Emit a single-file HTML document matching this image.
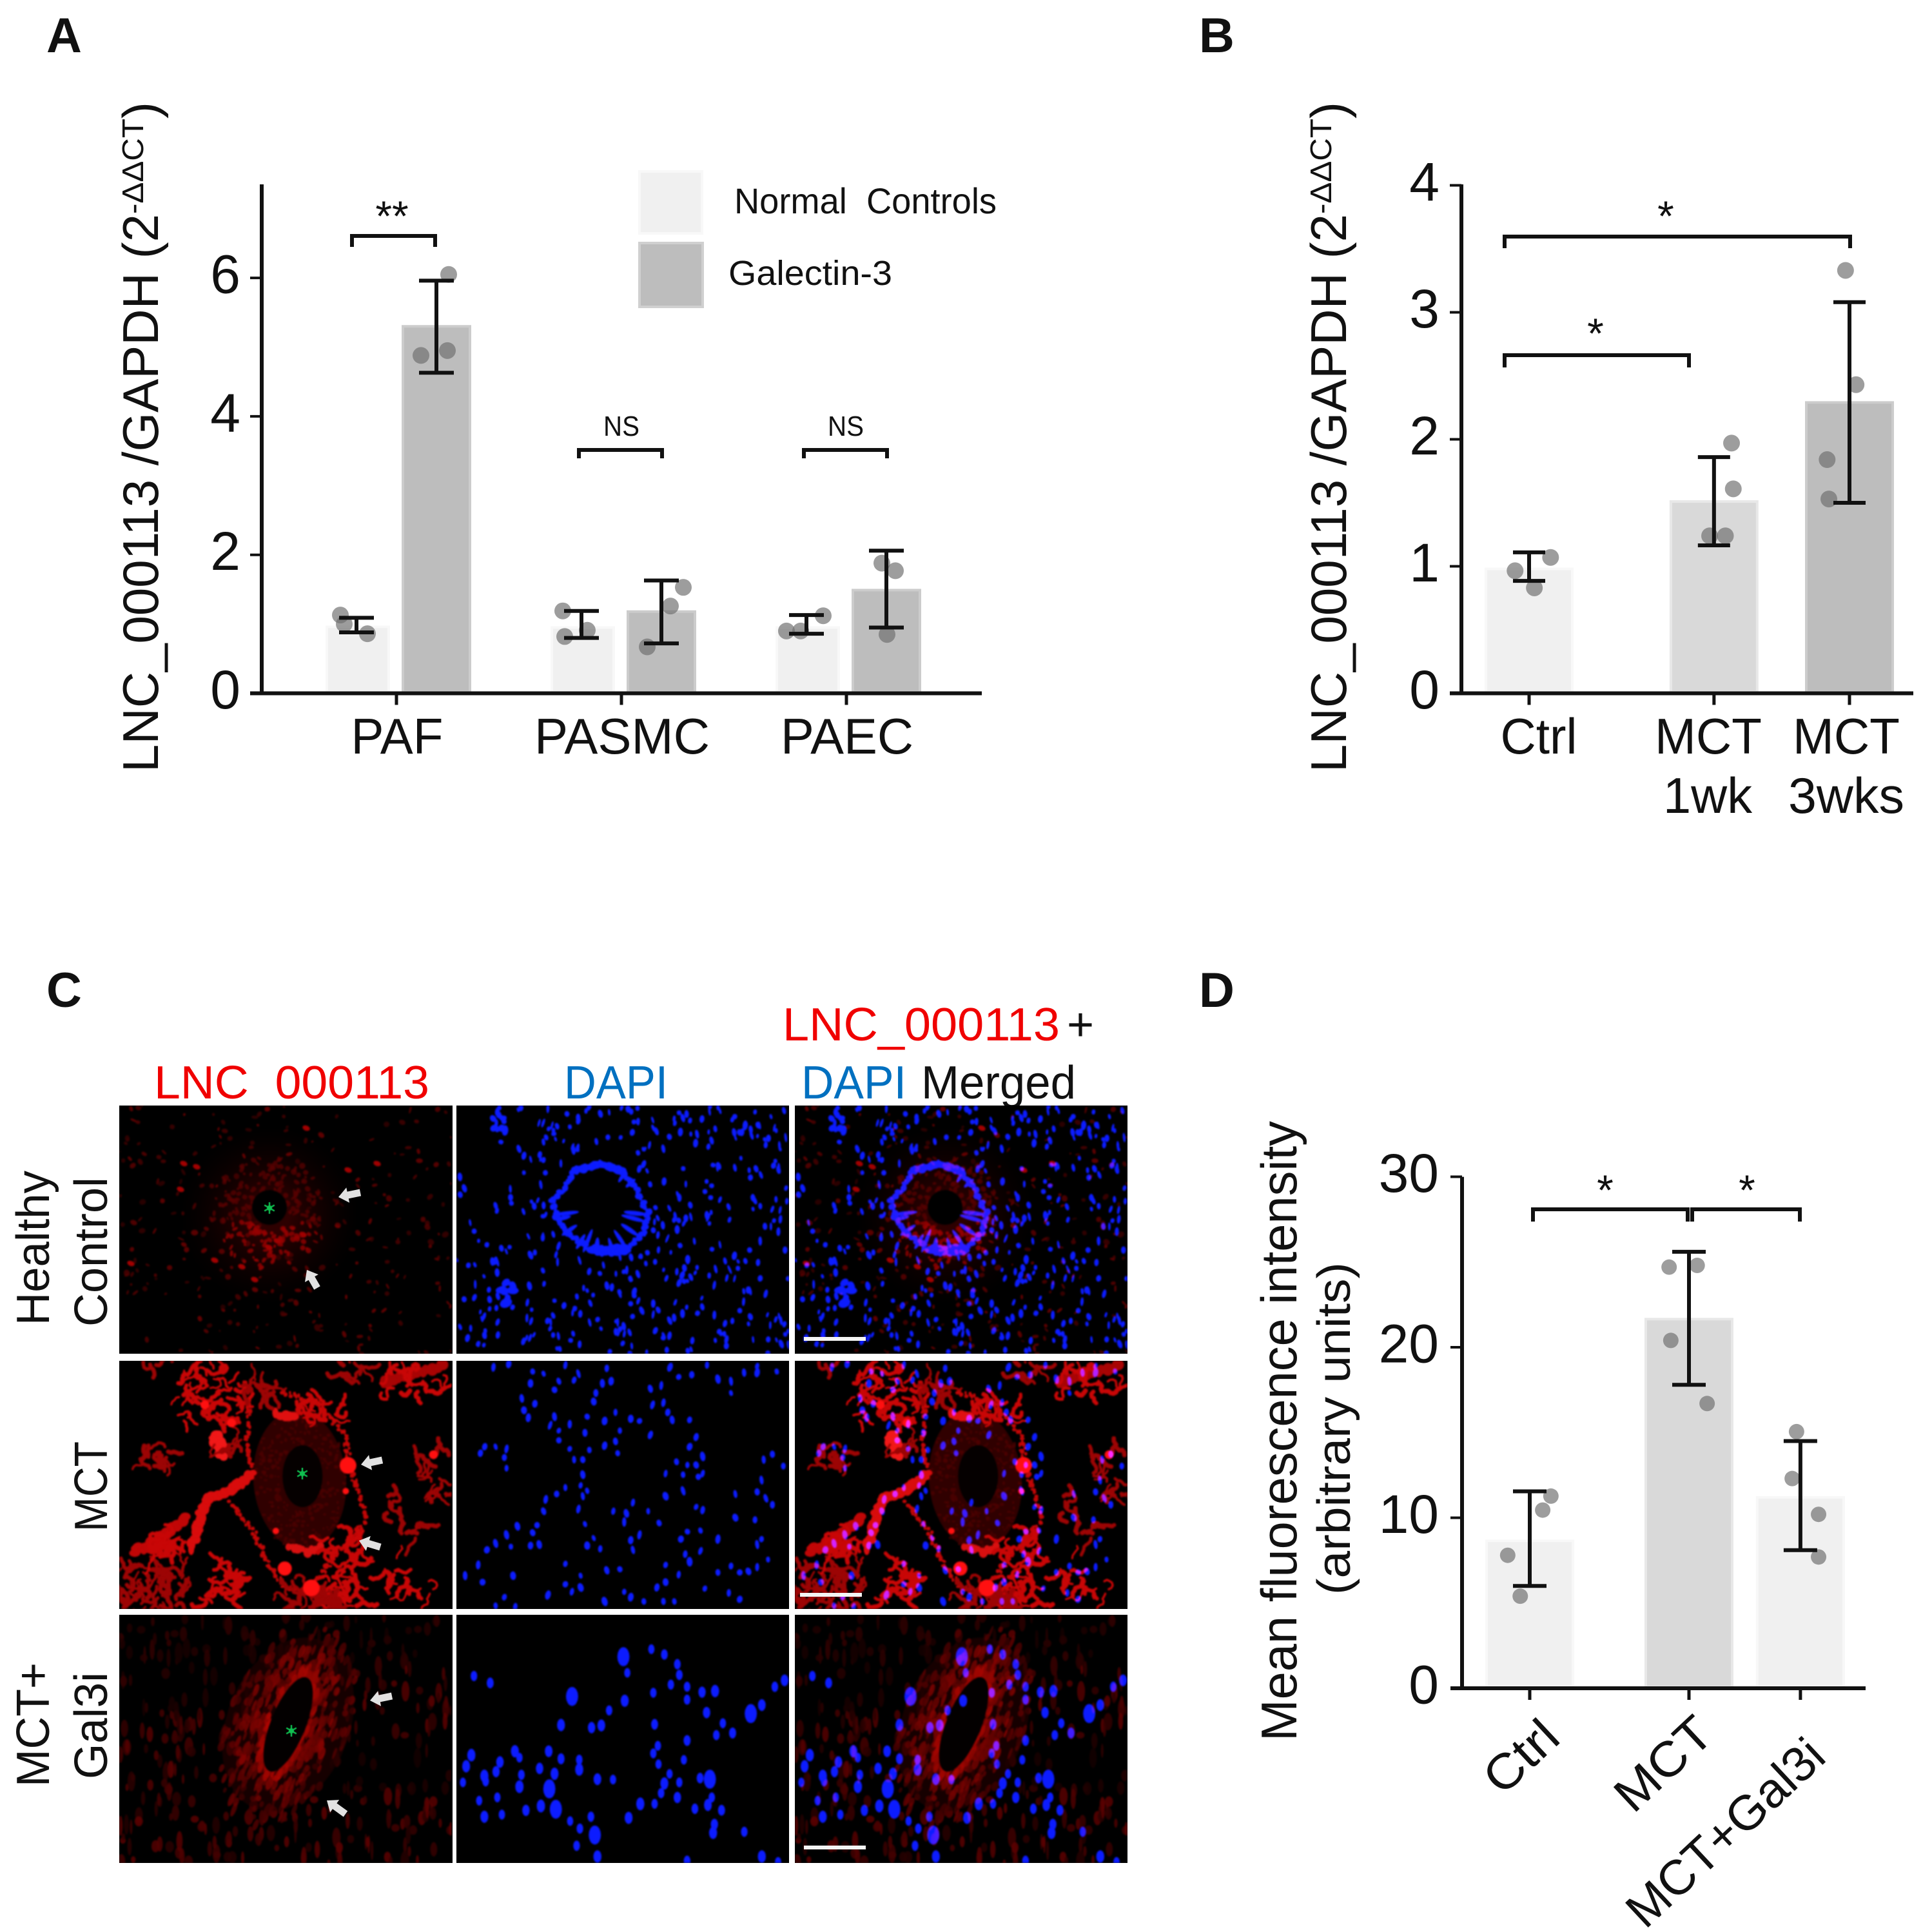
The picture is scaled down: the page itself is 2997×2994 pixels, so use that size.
<!DOCTYPE html>
<html lang="en">
<head>
<meta charset="utf-8">
<title>LNC_000113 expression figure</title>
<style>
html,body{margin:0;padding:0;background:#fff;}
#page{position:relative;width:2997px;height:2994px;overflow:hidden;background:#fff;}
svg{position:absolute;left:0;top:0;}
canvas{position:absolute;display:block;}
text{font-family:"Liberation Sans",Arial,sans-serif;fill:#111;}
.b{font-weight:700;}
</style>
</head>
<body>
<div id="page">
<svg id="base" width="2997" height="2994" viewBox="0 0 2997 2994">
  <defs><clipPath id="hdrClip"><rect x="200" y="1620" width="500" height="88"/></clipPath></defs>
  <text class="b" x="72" y="81" font-size="76">A</text>
  <text class="b" x="1860" y="81" font-size="76">B</text>
  <text class="b" x="72" y="1562" font-size="76">C</text>
  <text class="b" x="1860" y="1562" font-size="76">D</text>

  <g>
    <text transform="translate(245 1198) rotate(-90)" font-size="78" textLength="866" lengthAdjust="spacingAndGlyphs">LNC_000113 /GAPDH (2</text>
    <text transform="translate(222 332) rotate(-90)" font-size="46" textLength="148" lengthAdjust="spacingAndGlyphs">-ΔΔCT</text>
    <text transform="translate(245 184) rotate(-90)" font-size="78">)</text>
  </g>
  <g>
    <text transform="translate(2088 1198) rotate(-90)" font-size="78" textLength="866" lengthAdjust="spacingAndGlyphs">LNC_000113 /GAPDH (2</text>
    <text transform="translate(2065 332) rotate(-90)" font-size="46" textLength="148" lengthAdjust="spacingAndGlyphs">-ΔΔCT</text>
    <text transform="translate(2088 184) rotate(-90)" font-size="78">)</text>
  </g>
  <text transform="translate(2011 2701) rotate(-90)" font-size="78" textLength="962" lengthAdjust="spacingAndGlyphs">Mean fluorescence intensity</text>
  <text transform="translate(2094 2474) rotate(-90)" font-size="72" textLength="516" lengthAdjust="spacingAndGlyphs">(arbitrary units)</text>

  <g>
    <rect x="992" y="266" width="97" height="96" fill="#f0f0f0" stroke="#f8f8f8" stroke-width="4"/>
    <text x="1139" y="331" font-size="56" textLength="407" lengthAdjust="spacingAndGlyphs" xml:space="preserve">Normal  Controls</text>
    <rect x="992" y="377" width="98" height="99" fill="#bdbdbd" stroke="#d0d0d0" stroke-width="4"/>
    <text x="1130" y="442" font-size="54" textLength="254" lengthAdjust="spacingAndGlyphs">Galectin-3</text>
  </g>

  <g>
    <text x="239" y="1704" font-size="72" textLength="427" lengthAdjust="spacingAndGlyphs" style="fill:#f00000" clip-path="url(#hdrClip)">LNC_000113</text>
    <text x="875" y="1704" font-size="72" textLength="161" lengthAdjust="spacingAndGlyphs" style="fill:#0070c0">DAPI</text>
    <text x="1214" y="1614" font-size="72" textLength="430" lengthAdjust="spacingAndGlyphs" style="fill:#f00000">LNC_000113</text>
    <text x="1655" y="1614" font-size="72">+</text>
    <text x="1243" y="1704" font-size="72" textLength="163" lengthAdjust="spacingAndGlyphs" style="fill:#0070c0">DAPI</text>
    <text x="1429" y="1704" font-size="72" textLength="240" lengthAdjust="spacingAndGlyphs">Merged</text>
  </g>
  <g>
    <text transform="translate(76 2056) rotate(-90)" font-size="72" textLength="240" lengthAdjust="spacingAndGlyphs">Healthy</text>
    <text transform="translate(166 2058) rotate(-90)" font-size="72" textLength="232" lengthAdjust="spacingAndGlyphs">Control</text>
    <text transform="translate(166 2376) rotate(-90)" font-size="72" textLength="140" lengthAdjust="spacingAndGlyphs">MCT</text>
    <text transform="translate(76 2772) rotate(-90)" font-size="72" textLength="193" lengthAdjust="spacingAndGlyphs">MCT+</text>
    <text transform="translate(166 2760) rotate(-90)" font-size="72" textLength="166" lengthAdjust="spacingAndGlyphs">Gal3i</text>
  </g>
</svg>
<div id="micro"></div>
<svg id="over" width="2997" height="2994" viewBox="0 0 2997 2994" style="pointer-events:none"></svg>
</div>
<script>
/* ---------- Chart data ---------- */
const aCategories = ['PAF','PASMC','PAEC'];
const aYTicks = [0,2,4,6];
const aControlMeans = [0.96,0.95,0.95];
const aGalectinMeans = [5.3,1.18,1.49];
const aControlErrHigh = [1.09,1.19,1.13];
const aControlErrLow = [0.88,0.80,0.86];
const aGalectinErrHigh = [5.96,1.63,2.06];
const aGalectinErrLow = [4.63,0.72,0.95];
const aControlPoints = [[1.13,1.0,0.86],[1.19,0.91,0.82],[1.12,0.9,0.9]];
const aGalectinPoints = [[6.05,4.88,4.95],[1.53,1.26,0.67],[1.88,1.77,0.85]];
const aControlJitter = [[-0.54,-0.42,0.3],[-0.62,0.14,-0.56],[0.48,-0.66,-0.22]];
const aGalectinJitter = [[0.38,-0.48,0.34],[0.68,0.28,-0.44],[-0.14,0.28,0.02]];

const bCategories = [['Ctrl'],['MCT','1wk'],['MCT','3wks']];
const bYTicks = [0,1,2,3,4];
const bMeans = [0.98,1.51,2.29];
const bErrHigh = [1.11,1.86,3.08];
const bErrLow = [0.885,1.165,1.5];
const bPoints = [[1.07,0.965,0.83],[1.97,1.61,1.24,1.24],[3.33,2.43,1.84,1.53]];
const bJitter = [[0.49,-0.32,0.12],[0.4,0.44,-0.1,0.26],[-0.09,0.15,-0.51,-0.47]];

const dCategories = ['Ctrl','MCT','MCT+Gal3i'];
const dYTicks = [0,10,20,30];
const dMeans = [8.65,21.65,11.2];
const dErrHigh = [11.55,25.6,14.5];
const dErrLow = [6.0,17.8,8.1];
const dPoints = [[11.27,10.45,7.8,5.4],[24.8,24.7,20.4,16.7],[15.05,12.3,10.2,7.7]];
const dJitter = [[0.49,0.3,-0.51,-0.22],[0.19,-0.46,-0.42,0.42],[-0.09,-0.19,0.42,0.42]];

/* ---------- SVG helpers ---------- */
const NS='http://www.w3.org/2000/svg';
const base=document.getElementById('base');
const over=document.getElementById('over');
function mk(tag,attrs,parent){
  const e=document.createElementNS(NS,tag);
  for(const k in attrs){e.setAttribute(k,attrs[k]);}
  parent.appendChild(e);
  return e;
}
function group(name){
  const g=mk('g',{},base);
  
  
  return g;
}
function axes(g,xLeft,xRight,yTop,yBottom,xTicks,yTicks,yFn,labelRight,fs){
  const yl=mk('line',{x1:xLeft,x2:xLeft,y1:yTop,y2:yBottom+3,stroke:'#111','stroke-width':6},g);
  
  
  const xl=mk('line',{x1:xLeft-18,x2:xRight,y1:yBottom,y2:yBottom,stroke:'#111','stroke-width':6},g);
  
  
  yTicks.forEach(v=>{
    const y=yFn(v);
    const t=mk('line',{x1:xLeft-18,x2:xLeft,y1:y,y2:y,stroke:'#111','stroke-width':4},g);
    
    
    const l=mk('text',{x:labelRight,y:y+fs*0.28,'font-size':fs,'text-anchor':'end'},g);
    l.textContent=String(v);
    
    
  });
  xTicks.forEach(x=>{
    const t=mk('line',{x1:x,x2:x,y1:yBottom,y2:yBottom+18,stroke:'#111','stroke-width':5},g);
    
    
  });
}
function bar(g,cx,half,val,yFn,color,edge){
  const y=yFn(val),y0=yFn(0);
  const r=mk('rect',{x:cx-half,y:y,width:half*2,height:y0-y-2,fill:color,stroke:edge,'stroke-width':4},g);
  
  
}
function errorBar(g,cx,hi,lo,yFn,cap){
  const e=mk('path',{d:'M'+(cx-cap)+' '+yFn(hi)+'H'+(cx+cap)+'M'+(cx-cap)+' '+yFn(lo)+'H'+(cx+cap)+'M'+cx+' '+yFn(hi)+'V'+yFn(lo),fill:'none',stroke:'#111','stroke-width':6},g);
  
  
}
function dots(g,cx,half,vals,jit,yFn,r){
  vals.forEach((v,i)=>{
    const c=mk('circle',{cx:cx+jit[i]*half,cy:yFn(v),r:r,fill:'#6e6e6e','fill-opacity':0.68},g);
    
    
  });
}
function bracket(parent,x1,x2,y,h){
  const b=mk('path',{d:'M'+x1+' '+(y+h)+'V'+y+'H'+x2+'V'+(y+h),fill:'none',stroke:'#111','stroke-width':6},parent);
  
  
}
function note(parent,x,y,txt,fs,len){
  const a={x:x,y:y,'font-size':fs,'text-anchor':'middle'};
  if(len){a.textLength=len;a.lengthAdjust='spacingAndGlyphs';}
  const t=mk('text',a,parent);
  t.textContent=txt;
  
  
}
function xLabel(parent,x,y,txt,fs,len){
  const t=mk('text',{x:x,y:y,'font-size':fs,'text-anchor':'middle',textLength:len,lengthAdjust:'spacingAndGlyphs'},parent);
  t.textContent=txt;
  
  
}

/* ---------- Panel A ---------- */
(function(){
  const g=group('panel-a-chart');
  const yA=v=>1075.5-v*107.4;
  const xA=i=>615+349*i;
  aCategories.forEach((c,i)=>{
    const cx1=xA(i)-60, cx2=xA(i)+62;
    bar(g,cx1,48,aControlMeans[i],yA,'#f0f0f0','#f8f8f8');
    bar(g,cx2,52,aGalectinMeans[i],yA,'#bdbdbd','#cccccc');
    dots(g,cx1,50,aControlPoints[i],aControlJitter[i],yA,13);
    dots(g,cx2,50,aGalectinPoints[i],aGalectinJitter[i],yA,13);
    errorBar(g,cx1-2,aControlErrHigh[i],aControlErrLow[i],yA,27);
    errorBar(g,cx2,aGalectinErrHigh[i],aGalectinErrLow[i],yA,27);
  });
  axes(g,406,1523,286,1075.5,aCategories.map((c,i)=>xA(i)),aYTicks,yA,373,84);
  const widths=[143,272,206];
  aCategories.forEach((c,i)=>xLabel(g,xA(i)+1,1169,c,78,widths[i]));
  bracket(g,546,675,366,17);
  note(g,608,358,'**',66);
  bracket(g,898,1027,698,13);
  note(g,964,676,'NS',44,56);
  bracket(g,1247,1376,698,13);
  note(g,1312,676,'NS',44,56);
})();

/* ---------- Panel B ---------- */
(function(){
  const g=group('panel-b-chart');
  const yB=v=>1075.5-v*197;
  const slots=[0,1.01,1.75];
  const xB=i=>2372+284*slots[i];
  const fills=['#f0f0f0','#d9d9d9','#bdbdbd'];
  const edges=['#f8f8f8','#e8e8e8','#cccccc'];
  bCategories.forEach((c,i)=>{
    bar(g,xB(i),67,bMeans[i],yB,fills[i],edges[i]);
    dots(g,xB(i),68,bPoints[i],bJitter[i],yB,13);
    errorBar(g,xB(i),bErrHigh[i],bErrLow[i],yB,25);
  });
  axes(g,2267,2968,286,1075.5,bCategories.map((c,i)=>xB(i)),bYTicks,yB,2233,84);
  xLabel(g,2387,1169,bCategories[0][0],78,119);
  xLabel(g,2650,1169,bCategories[1][0],78,166);
  xLabel(g,2649,1261,bCategories[1][1],78,138);
  xLabel(g,2864,1169,bCategories[2][0],78,166);
  xLabel(g,2864,1261,bCategories[2][1],78,180);
  bracket(g,2334,2870,367,18);
  note(g,2584,358,'*',66);
  bracket(g,2334,2620,551,19);
  note(g,2475,540,'*',66);
})();

/* ---------- Panel D ---------- */
(function(){
  const g=group('panel-d-chart');
  const yD=v=>2619-v*26.45;
  const slots=[0,1,1.7];
  const xD=i=>2373+247*slots[i];
  const fills=['#f0f0f0','#d9d9d9','#f0f0f0'];
  const edges=['#f8f8f8','#e8e8e8','#f8f8f8'];
  dCategories.forEach((c,i)=>{
    bar(g,xD(i),67,dMeans[i],yD,fills[i],edges[i]);
    dots(g,xD(i),67,dPoints[i],dJitter[i],yD,12);
    errorBar(g,xD(i),dErrHigh[i],dErrLow[i],yD,26);
  });
  axes(g,2268,2894,1825.6,2619,dCategories.map((c,i)=>xD(i)),dYTicks,yD,2232,84);
  const spots=[[2377,2744],[2598,2755],[2694,2862]];
  const lens=[128,176,388];
  dCategories.forEach((c,i)=>{
    const t=mk('text',{x:0,y:0,'font-size':76,'text-anchor':'middle',textLength:lens[i],lengthAdjust:'spacingAndGlyphs',transform:'translate('+spots[i][0]+' '+spots[i][1]+') rotate(-43)'},g);
    t.textContent=c;
    
    
  });
  bracket(g,2378,2618,1876,19);
  bracket(g,2625,2792,1876,19);
  note(g,2490,1869,'*',66);
  note(g,2710,1869,'*',66);
})();

/* ---------- Micrographs (illustrative fluorescence texture, not chart data) ---------- */
const W=516,H=385;
function rng(seed){return ()=>{seed=(seed*1664525+1013904223)>>>0;return seed/4294967296;};}
function layer(){const c=document.createElement('canvas');c.width=W;c.height=H;const x=c.getContext('2d');x.fillStyle='#000';x.fillRect(0,0,W,H);return [c,x];}
function ell(x,px,py,rx,ry,rot,col){x.fillStyle=col;x.beginPath();x.ellipse(px,py,rx,ry,rot,0,Math.PI*2);x.fill();}
function cluster(x,R,x0,y0,x1,y1,n,col,s0,s1){
  for(let i=0;i<n;i++){
    const a=R()*6.283,d=Math.sqrt(R());
    const px=(x0+x1)/2+Math.cos(a)*d*(x1-x0)/2, py=(y0+y1)/2+Math.sin(a)*d*(y1-y0)/2;
    const s=s0+R()*(s1-s0);
    ell(x,px,py,s,s*(0.7+R()*0.9),R()*3,col);
  }
}
function worms(x,R,x0,y0,x1,y1,n,col,w){
  x.strokeStyle=col;x.lineCap='round';x.lineJoin='round';
  for(let i=0;i<n;i++){
    let px=x0+R()*(x1-x0),py=y0+R()*(y1-y0),a=R()*6.283;
    x.lineWidth=w*(.6+R()*.9);
    x.beginPath();x.moveTo(px,py);
    const k=3+R()*5;
    for(let j=0;j<k;j++){
      a+=(R()-.5)*2.2;px+=Math.cos(a)*4.5;py+=Math.sin(a)*4.5;
      x.lineTo(px,py);
    }
    x.stroke();
  }
}
function strand(x,R,pts,w,col,wob){
  for(let i=0;i<pts.length-1;i++){
    const a=pts[i],b=pts[i+1];
    const L=Math.hypot(b[0]-a[0],b[1]-a[1]);
    const n=Math.max(2,Math.round(L/3));
    for(let k=0;k<n;k++){
      const t=k/n;
      ell(x,a[0]+(b[0]-a[0])*t+(R()-.5)*wob,a[1]+(b[1]-a[1])*t+(R()-.5)*wob,w*(.6+R()*.7),w*(.6+R()*.7),0,col);
    }
  }
}
function star(x,px,py){
  x.strokeStyle='#10c050';x.lineWidth=2.4;
  for(let i=0;i<3;i++){
    const a=Math.PI/2+i*Math.PI/3;
    x.beginPath();x.moveTo(px-Math.cos(a)*9,py-Math.sin(a)*9);x.lineTo(px+Math.cos(a)*9,py+Math.sin(a)*9);x.stroke();
  }
  ell(x,px,py,4,4,0,'#10c050');
}
function blur(x,cv,px){
  const c=document.createElement('canvas');c.width=W;c.height=H;
  const y=c.getContext('2d');y.filter='blur('+px+'px)';y.drawImage(cv,0,0);
  x.filter='none';x.drawImage(c,0,0);
}

function red1(){
  const [c,x]=layer(),R=rng(11);
  const g=x.createRadialGradient(233,170,30,233,170,140);
  g.addColorStop(0,'rgba(50,0,0,.9)');g.addColorStop(1,'rgba(16,0,0,0)');
  x.fillStyle=g;x.fillRect(0,0,W,H);
  for(let i=0;i<280;i++){
    ell(x,R()*W,R()*H,1.5+R()*3.2,1.5+R()*4.2,R()*3,'rgba('+(50+R()*70|0)+',0,0,.8)');
  }
  for(let i=0;i<220;i++){
    const a=R()*6.283,r=30+R()*58;
    const low=Math.sin(a)>0.3;
    ell(x,233+Math.cos(a)*r,165+Math.sin(a)*r,1.8+R()*3.2,1.8+R()*3.2,R()*3,low?'rgba(150,0,0,.8)':'rgba(90,0,0,.75)');
  }
  [[100,90],[120,95],[95,130],[148,240],[210,270],[190,250],[290,35],[355,100],[400,90],[245,210],[232,220],[285,200],[18,245]].forEach(p=>ell(x,p[0],p[1],6,4,.4,'#a00000'));
  ell(x,233,158,27,27,0,'#000');
  return c;
}
function z6(a,b){return [a/2.904-5,b/3-11];}
function red2(){
  const [c,x]=layer(),R=rng(29);
  ell(x,280,185,72,108,-.08,'#300000');
  for(let i=0;i<300;i++){
    const a=R()*6.283,r=.45+R()*.55;
    ell(x,280+Math.cos(a)*72*r,185+Math.sin(a)*108*r,1.5+R()*2,1.5+R()*2,0,'rgba(78,0,0,.7)');
  }
  ell(x,z6(840,0)[0],z6(0,570)[1],31,48,0,'#050000');
  const C1='#c00606',C2='#d80c0c';
  const S=[
    [[[90,920],[180,880],[270,800],[310,760]],8,C1],
    [[[340,900],[380,760],[420,670],[500,640],[620,560]],7.5,C2],
    [[[600,230],[590,400],[610,530]],3,C1],
    [[[510,690],[620,830],[690,990],[760,1090],[880,1095],[980,950],[1130,770],[1080,620],[1050,500],[1030,370],[900,230],[740,170]],3,C1],
    [[[780,900],[860,925],[920,900]],6,'#d81010'],
    [[[720,285],[800,285]],7,'#e01010'],
    [[[450,370],[480,480]],9,'#f01818'],
    [[[1200,130],[1300,100],[1470,60]],8,'#a80404']
  ];
  S.forEach(s=>strand(x,R,s[0].map(p=>z6(p[0],p[1])),s[1],s[2],7));
  const CL=[
    [280,60,560,330,44],[100,430,240,550,14],[440,370,540,490,8],[1180,60,1480,190,18],[820,220,1000,300,16],[980,40,1120,110,9],
    [1350,460,1500,700,16],[1220,650,1500,880,14],[1200,950,1420,1150,14],[20,980,300,1190,50],[480,1030,600,1130,16],[950,830,1090,1190,48],[730,1080,1000,1190,30],[600,120,720,200,14],[150,830,310,940,22],[400,1090,460,1170,6],[470,950,540,990,3],[120,50,190,80,3]
  ];
  CL.forEach(a=>{const p=z6(a[0],a[1]),q=z6(a[2],a[3]);worms(x,R,p[0],p[1],q[0],q[1],a[4],R()>.4?'#c80606':'#9c0404',5);});
  [[400,238,7],[520,322,7],[760,1000,11],[880,1090,13],[1045,520,13],[1430,470,7],[720,825,5],[1035,640,5]].forEach(a=>{const p=z6(a[0],a[1]);ell(x,p[0],p[1],a[2],a[2],0,'#ff1010');});
  return c;
}
function red3(){
  const [c,x]=layer(),R=rng(47);
  const cx=262,cy=170,rot=.38;
  for(let i=0;i<360;i++){
    const px=R()*W,py=R()*H;
    const str=(px<230&&py>150)||(px>340&&py>70&&py<190)||(py>270)?1:.55;
    ell(x,px,py,2+R()*5,5+R()*11,0,'rgba('+((36+R()*60)*str|0)+',0,0,.85)');
  }
  ell(x,cx,cy,95,140,rot,'rgba(36,0,0,.6)');
  const ca=Math.cos(rot),sa=Math.sin(rot);
  for(let i=0;i<140;i++){
    const a=R()*6.283,r=.95+R()*.4;
    const u=Math.cos(a)*70*r,v=Math.sin(a)*124*r;
    ell(x,cx+u*ca-v*sa,cy+u*sa+v*ca,2+R()*3.5,4+R()*8,rot,'rgba('+(60+R()*55|0)+',0,0,.75)');
  }
  for(let i=0;i<340;i++){
    const a=R()*6.283,r=.45+R()*.55;
    const u=Math.cos(a)*68*r,v=Math.sin(a)*124*r;
    ell(x,cx+u*ca-v*sa,cy+u*sa+v*ca,2+R()*3.5,4+R()*8,rot,'rgba('+(85+R()*55|0)+',2,0,.78)');
  }
  for(let i=0;i<110;i++){
    const a=R()*6.283,r=1.0+R()*.22;
    const u=Math.cos(a)*27*r,v=Math.sin(a)*78*r;
    ell(x,cx+u*ca-v*sa,cy+u*sa+v*ca,2+R()*3,4+R()*7,rot,'rgba('+(120+R()*60|0)+',6,0,.75)');
  }
  ell(x,cx,cy,27,78,rot,'#030000');
  return c;
}
function blue1(){
  const [c,x]=layer(),R=rng(71);
  const col='#0c1cff';
  let n=0,t=0;
  while(n<400&&t<5000){
    t++;
    const px=R()*W,py=R()*H;
    if(px<95&&py<110&&!(px>40&&px<80&&py<60))continue;
    if(Math.hypot(px-222,py-158)<82)continue;
    if(px>320&&px<380&&py>70&&py<120&&R()<.8)continue;
    ell(x,px,py,1.9+R()*2.2,3.4+R()*4,R()*.8-.4,col);
    n++;
  }
  cluster(x,R,52,14,78,50,8,col,3,6);
  cluster(x,R,68,268,92,310,10,col,4,8);
  const ring=[[340,320],[280,350],[260,430],[230,490],[240,570],[265,640],[320,720],[400,720],[440,640],[450,540],[420,430],[390,350],[340,320]].map(p=>[(p[0]-10)/1.479,(p[1]-47)/3]);
  strand(x,R,ring,4.2,col,5);
  strand(x,R,[ring[0],ring[1]],6,col,2);
  strand(x,R,[ring[11],ring[0]],6,col,2);
  strand(x,R,[ring[6],ring[7]],8,col,4);
  for(let i=0;i<20;i++){
    const a=i/20*6.283+(R()-.5)*.25;
    const low=Math.sin(a)>0;
    if(!low&&R()<.45)continue;
    const r0=70,r1=70*((low?.5:.64)+R()*.2);
    ell(x,223+Math.cos(a)*(r0+r1)/2,161+Math.sin(a)*(r0+r1)/2,(r0-r1)/2+2,3+R()*1.6,a,col);
  }
  return c;
}
function blue2(){
  const [c,x]=layer(),R=rng(83);
  const col='#0c1cff';
  const Z=[[95,50],[130,35],[260,40],[355,55],[500,50],[585,40],[700,45],[745,70],[700,75],[670,75],[640,115],[610,105],[550,85],[520,95],[640,170],[210,80],[290,80],[185,70],[180,125],[245,115],[235,155],[280,110],[345,125],[365,115],[330,170],[325,210],[455,150],[480,135],[160,195],[190,220],[165,250],[175,285],[460,225],[485,215],[495,260],[505,295],[545,295],[375,260],[310,280],[235,280],[270,315],[225,320],[245,345],[305,355],[350,300],[410,290],[430,300],[385,345],[375,395],[245,390],[270,430],[315,435],[350,415],[545,420],[560,375],[455,365],[100,420],[75,420],[125,430],[65,450],[120,470],[125,520],[300,480],[280,480],[380,450],[715,480],[735,455],[760,510],[575,465],[540,505],[515,490],[560,505],[490,545],[530,550],[565,560],[575,545],[710,575],[530,625],[300,550],[295,600],[310,625],[260,610],[240,640],[215,665],[210,720],[290,710],[300,650],[650,640],[700,630],[720,660],[735,690],[560,700],[575,715],[415,680],[370,720],[400,730],[450,720],[490,650],[650,750],[695,760],[150,790],[125,830],[195,785],[185,820],[305,780],[395,770],[475,775],[570,810],[540,815],[525,850],[710,850],[700,875],[610,850],[325,845],[310,880],[340,895],[100,870],[80,900],[135,885],[180,880],[200,875],[430,830],[410,855],[415,900],[535,920],[570,905],[545,955],[260,965],[355,995],[385,990],[490,970],[640,975],[660,1005],[680,1000],[700,980],[725,945],[610,1005],[60,970],[30,1020],[70,1050],[140,1020],[295,1020],[260,1060],[295,1075],[490,1050],[470,1075],[520,1015],[395,1095],[410,1120],[350,1140],[220,1110],[275,1095],[120,1120],[100,1160],[145,1165],[635,1100],[660,1130],[510,1140],[485,1140],[440,1140],[580,1080]];
  Z.forEach(p=>ell(x,(p[0]-10)/1.479,(p[1]-20)/3,3+R()*1.8,4.6+R()*3,R()*.7-.35,col));
  return c;
}
function blue3(){
  const [c,x]=layer(),R=rng(97);
  const col='#0c1cff';
  const Z=[[782,210,1],[845,200],[825,175],[865,245],[868,295],[788,285],[855,340],[880,350],[903,375],[923,370],[828,378],[784,415],[880,410],[703,395,1],[577,332],[552,300],[760,460],[748,530],[733,540],[686,528],[830,525],[978,475,1],[995,435],[910,470],[935,520],[950,565],[925,575],[880,600],[835,625],[828,660],[875,690],[836,710],[853,755],[915,780,1],[900,775],[868,795],[845,800],[840,845],[865,865],[918,865],[912,900],[808,895],[830,895],[790,960],[892,918],[933,925],[548,668],[615,650],[667,650],[622,680],[592,700],[686,685],[714,690],[714,735],[540,720],[653,730],[676,755],[625,760],[568,765],[586,745],[535,795],[570,790],[742,780],[766,782],[668,825,1],[622,815],[560,880],[588,865],[632,925],[655,905],[678,920,1],[595,945],[568,955],[700,975],[732,955],[738,1040,1],[715,1010],[710,1090],[742,1140],[922,990],[920,1030],[968,1025],[995,1140],[1020,1165],[880,1160],[1030,320],[1015,350]];
  Z.forEach(p=>{
    const s=p[2]?9.5:4.8+R()*1.8;
    ell(x,(p[0]-525)/.992,(p[1]-15)/3,s,s*1.55,0,col);
  });
  return c;
}
const micro=document.getElementById('micro');
const colX=[185,708,1233], rowY=[1715,2111,2505];
const redLayers=[red1(),red2(),red3()];
const blueLayers=[blue1(),blue2(),blue3()];
const rowNames=['healthy-control','mct','mct-gal3i'];
const colNames=['lnc','dapi','merged'];
const stars=[[233,159],[284,175],[267,180]];
rowY.forEach((ry,r)=>{
  colX.forEach((cx,k)=>{
    const c=document.createElement('canvas');
    c.width=W+(k===0?1:0);c.height=H;
    c.style.left=cx+'px';c.style.top=ry+'px';
    
    
    const x=c.getContext('2d');
    x.fillStyle='#000';x.fillRect(0,0,W+1,H);
    if(k===0||k===2){blur(x,redLayers[r],1.2);}
    if(k===1||k===2){x.globalCompositeOperation='lighter';blur(x,blueLayers[r],0.9);x.globalCompositeOperation='source-over';}
    if(k===0){star(x,stars[r][0],stars[r][1]);}
    micro.appendChild(c);
  });
});
function arrow(t,e){
  const dx=e[0]-t[0],dy=e[1]-t[1],L=Math.hypot(dx,dy),ux=dx/L,uy=dy/L,nx=-uy,ny=ux;
  const h=15,sw=5.5,hw=12;
  const P=[[t[0],t[1]],[t[0]+ux*h+nx*hw,t[1]+uy*h+ny*hw],[t[0]+ux*h+nx*sw,t[1]+uy*h+ny*sw],[e[0]+nx*sw,e[1]+ny*sw],[e[0]-nx*sw,e[1]-ny*sw],[t[0]+ux*h-nx*sw,t[1]+uy*h-ny*sw],[t[0]+ux*h-nx*hw,t[1]+uy*h-ny*hw]];
  const a=mk('polygon',{points:P.map(p=>p.join(',')).join(' '),fill:'#e2e2e2'},over);
  
  
}
arrow([525,1857],[559,1850]);arrow([476,1970],[492,1998]);
arrow([560,2272],[593,2265]);arrow([557,2390],[590,2400]);
arrow([574,2638],[608,2631]);arrow([507,2793],[536,2814]);
[[1247,2077],[1241,2474],[1247,2866]].forEach(p=>{
  const s=mk('rect',{x:p[0],y:p[1]-3,width:96,height:6,fill:'#f4f4f4'},over);
  
  
});
</script>
</body>
</html>
